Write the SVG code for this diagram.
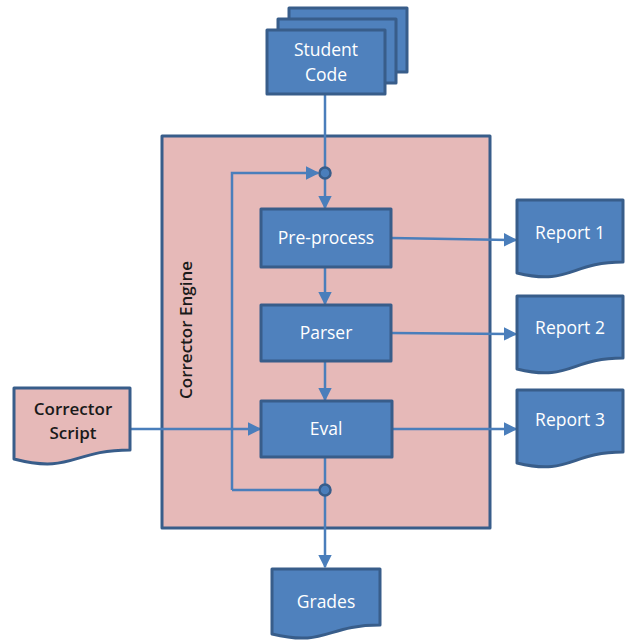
<svg xmlns="http://www.w3.org/2000/svg" width="627" height="641" viewBox="0 0 627 641">
  <style>
    .box { fill: #4F81BD; stroke: #385D8A; stroke-width: 3; stroke-linejoin: round; }
    .pink { fill: #E6B9B8; stroke: #385D8A; stroke-width: 3; stroke-linejoin: round; }
    .wt { font-family: "Open Sans", "Liberation Sans", sans-serif; font-size: 17.5px; fill: #FFFFFF; text-anchor: middle; dominant-baseline: central; }
    .dk { font-family: "Open Sans", "Liberation Sans", sans-serif; font-size: 17px; font-weight: 600; fill: #1A1A1A; text-anchor: middle; dominant-baseline: central; }
    .wire { fill: none; stroke: #4A7EBB; stroke-width: 2.5; }
    .arr { marker-end: url(#ah); }
    .dot { fill: #4A7EBB; stroke: #385D8A; stroke-width: 2.5; }
  </style>
  <defs>
    <marker id="ah" viewBox="0 0 10 10" refX="9" refY="5" markerWidth="5.5" markerHeight="5.5" orient="auto" markerUnits="strokeWidth">
      <path d="M0,0 L10,5 L0,10 z" fill="#4A7EBB"/>
    </marker>
  </defs>

  <!-- engine container -->
  <g id="corrector-engine">
    <rect class="pink" x="162" y="136" width="328" height="392"/>
    <text class="dk" transform="translate(185,330) rotate(-90)">Corrector Engine</text>
  </g>

  <!-- connectors -->
  <g id="connectors">
    <path class="wire" d="M325,95 V168"/>
    <path class="wire arr" d="M232,490 V173 H318"/>
    <path class="wire arr" d="M325,178 V208"/>
    <path class="wire arr" d="M325,267 V304"/>
    <path class="wire arr" d="M325,361 V400"/>
    <path class="wire" d="M325,457 V485"/>
    <path class="wire" d="M232,490 H320"/>
    <path class="wire arr" d="M325,495 V567"/>
    <path class="wire arr" d="M391,238 L516,240"/>
    <path class="wire arr" d="M391,333 L516,334"/>
    <path class="wire arr" d="M392,429 L516,429"/>
    <path class="wire arr" d="M130,429 H260"/>
    <circle class="dot" cx="325" cy="173" r="5.5"/>
    <circle class="dot" cx="325" cy="490" r="5.5"/>
  </g>

  <g id="student-code">
    <rect class="box" x="289" y="8" width="118" height="64"/>
    <rect class="box" x="278" y="19" width="118" height="64"/>
    <rect class="box" x="267" y="30" width="118" height="64"/>
    <text class="wt" x="326" y="49">Student</text>
    <text class="wt" x="326" y="74">Code</text>
  </g>

  <g id="pre-process">
    <rect class="box" x="261" y="209" width="130" height="58"/>
    <text class="wt" x="326" y="237">Pre-process</text>
  </g>

  <g id="parser">
    <rect class="box" x="261" y="305" width="130" height="56"/>
    <text class="wt" x="326" y="332">Parser</text>
  </g>

  <g id="eval">
    <rect class="box" x="261" y="401" width="131" height="56"/>
    <text class="wt" x="326" y="428">Eval</text>
  </g>

  <g id="corrector-script">
    <path class="pink" d="M14,388 H130 V450 C72,450 72,474 14,459 Z"/>
    <text class="dk" x="73" y="408">Corrector</text>
    <text class="dk" x="73" y="432">Script</text>
  </g>

  <g id="report-1">
    <path class="box" d="M517,200 H623 V262 C570,262 570,286 517,273 Z"/>
    <text class="wt" x="570" y="232">Report 1</text>
  </g>

  <g id="report-2">
    <path class="box" d="M517,296 H623 V358 C570,358 570,382 517,369 Z"/>
    <text class="wt" x="570" y="327">Report 2</text>
  </g>

  <g id="report-3">
    <path class="box" d="M517,390 H623 V452 C570,452 570,476 517,463 Z"/>
    <text class="wt" x="570" y="419">Report 3</text>
  </g>

  <g id="grades">
    <path class="box" d="M272,569 H380 V625 C326,625 326,647 272,634 Z"/>
    <text class="wt" x="326" y="601">Grades</text>
  </g>
</svg>
